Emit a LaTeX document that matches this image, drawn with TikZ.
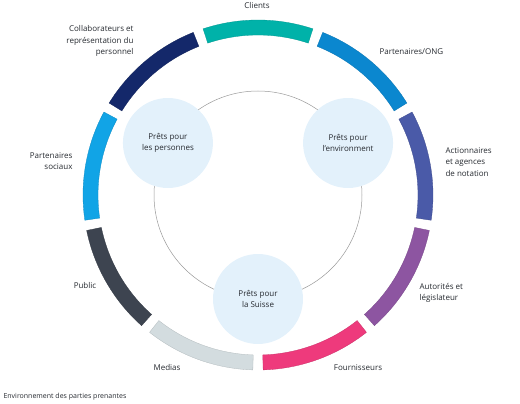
\documentclass[tikz,border=0pt]{standalone}
\usepackage{fontspec}
\setmainfont{Open Sans}
\usepackage{tikz}
\usetikzlibrary{positioning}
\definecolor{clients}{HTML}{00B2A9}
\definecolor{ong}{HTML}{0B87CF}
\definecolor{action}{HTML}{4A5AA8}
\definecolor{autor}{HTML}{8D55A1}
\definecolor{fourn}{HTML}{EE3A7C}
\definecolor{medias}{HTML}{D3DCDF}
\definecolor{public}{HTML}{3D4450}
\definecolor{sociaux}{HTML}{11A4E6}
\definecolor{collab}{HTML}{14286A}
\definecolor{pret}{HTML}{E3F1FB}
\definecolor{txt}{HTML}{262A30}

\begin{document}
\begin{tikzpicture}[x=1pt,y=1pt,font=\fontsize{8}{11.5}\selectfont,text=txt]
\useasboundingbox (0,0) rectangle (520,404);
\coordinate (c) at (258,209);
% anneau des parties prenantes
\foreach \a/\col in {90/clients,50/ong,10/action,-30/autor,-70/fourn,-110/medias,-150/public,170/sociaux,130/collab}{
  \filldraw[fill=\col,draw=\col!85!black,line width=0.3pt]
    ([shift={(\a+18.3:175)}]c) arc[start angle=\a+18.3,end angle=\a-18.3,radius=175]
    -- ([shift={(\a-18.3:160)}]c) arc[start angle=\a-18.3,end angle=\a+18.3,radius=160] -- cycle;
}
\draw[gray!80,line width=0.5pt] (c) circle[radius=104];
% prets
\node[circle,fill=pret,minimum size=90pt,align=center] (pers) at ([shift={(150:104)}]c) {Prêts pour\\les personnes};
\node[circle,fill=pret,minimum size=90pt,align=center] (env) at ([shift={(30:104)}]c) {Prêts pour\\l'environment};
\node[circle,fill=pret,minimum size=90pt,align=center] (suisse) at ([shift={(270:104)}]c) {Prêts pour\\la Suisse};
% libelles
\node (cli) at (257,398) {Clients};
\node[anchor=east,align=right] (col) at (137,363) {Collaborateurs et\\représentation du\\personnel};
\node[anchor=west] (ong) at (376,352) {Partenaires/ONG};
\node[anchor=west,align=left] (act) at (442,242) {Actionnaires\\et agences\\de notation};
\node[anchor=east,align=right] (soc) at (76,243) {Partenaires\\sociaux};
\node (pub) at (85,118) {Public};
\node (med) at (167,36) {Medias};
\node (fou) at (358,36) {Fournisseurs};
\node[anchor=west,align=left] (aut) at (416,111) {Autorités et\\législateur};
\node[anchor=west,font=\fontsize{7}{8}\selectfont] (titre) at (0,7) {Environnement des parties prenantes};
\end{tikzpicture}
\end{document}
